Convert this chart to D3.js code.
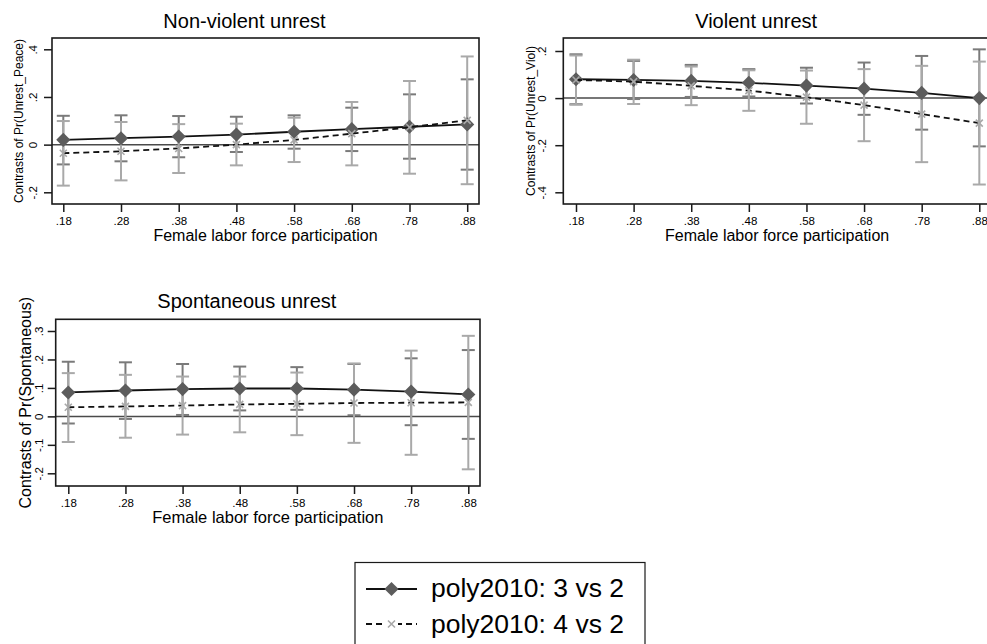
<!DOCTYPE html>
<html><head><meta charset="utf-8">
<script src="https://cdn.jsdelivr.net/npm/d3@7/dist/d3.min.js"></script>
<style>body{margin:0;background:#fff;} svg{display:block;font-family:"Liberation Sans",Arial,sans-serif;}</style>
</head><body><svg id="c" width="987" height="644"></svg>
<script>
// ---------- data ----------
const flfp = [0.18, 0.28, 0.38, 0.48, 0.58, 0.68, 0.78, 0.88];
const xTickLabels = [".18", ".28", ".38", ".48", ".58", ".68", ".78", ".88"];
const seriesNames = ["poly2010: 3 vs 2", "poly2010: 4 vs 2"];
const panelTitles = ["Non-violent unrest", "Violent unrest", "Spontaneous unrest"];
const yTitles = ["Contrasts of Pr(Unrest_Peace)", "Contrasts of Pr(Unrest_Viol)", "Contrasts of Pr(Spontaneous)"];
const xTitle = "Female labor force participation";

// Non-violent unrest
const peaceTicks = [-0.2, 0, 0.2, 0.4];
const peaceTickLabels = ["-.2", "0", ".2", ".4"];
const peaceS1Est = [0.020, 0.027, 0.034, 0.042, 0.054, 0.065, 0.075, 0.085];
const peaceS1Lo  = [-0.083, -0.070, -0.053, -0.031, -0.017, -0.027, -0.059, -0.105];
const peaceS1Hi  = [0.121, 0.123, 0.120, 0.117, 0.123, 0.155, 0.211, 0.274];
const peaceS2Est = [-0.036, -0.028, -0.016, 0.000, 0.020, 0.046, 0.073, 0.102];
const peaceS2Lo  = [-0.172, -0.150, -0.119, -0.087, -0.073, -0.087, -0.122, -0.166];
const peaceS2Hi  = [0.099, 0.095, 0.086, 0.088, 0.113, 0.179, 0.267, 0.370];

// Violent unrest
const violTicks = [-0.4, -0.2, 0, 0.2];
const violTickLabels = ["-.4", "-.2", "0", ".2"];
const violS1Est = [0.080, 0.077, 0.073, 0.065, 0.053, 0.040, 0.022, 0.000];
const violS1Lo  = [-0.026, -0.004, 0.005, 0.007, -0.023, -0.071, -0.134, -0.205];
const violS1Hi  = [0.186, 0.158, 0.141, 0.123, 0.129, 0.151, 0.179, 0.207];
const violS2Est = [0.077, 0.070, 0.052, 0.032, 0.004, -0.030, -0.068, -0.106];
const violS2Lo  = [-0.028, -0.025, -0.030, -0.054, -0.109, -0.183, -0.272, -0.367];
const violS2Hi  = [0.181, 0.163, 0.134, 0.118, 0.117, 0.123, 0.137, 0.155];

// Spontaneous unrest
const spontTicks = [-0.2, -0.1, 0, 0.1, 0.2, 0.3];
const spontTickLabels = ["-.2", "-.1", "0", ".1", ".2", ".3"];
const spontS1Est = [0.084, 0.091, 0.096, 0.098, 0.098, 0.094, 0.087, 0.077];
const spontS1Lo  = [-0.025, -0.009, 0.005, 0.021, 0.023, 0.004, -0.031, -0.079];
const spontS1Hi  = [0.192, 0.190, 0.184, 0.175, 0.173, 0.184, 0.204, 0.233];
const spontS2Est = [0.032, 0.035, 0.038, 0.042, 0.044, 0.047, 0.048, 0.049];
const spontS2Lo  = [-0.090, -0.075, -0.064, -0.056, -0.066, -0.093, -0.135, -0.186];
const spontS2Hi  = [0.152, 0.146, 0.140, 0.140, 0.154, 0.186, 0.231, 0.283];

// ---------- layout ----------
const svg = d3.select("#c");
const FONT = '"Liberation Sans",Arial,sans-serif';
const C_DIAMOND = "#5c5c5c", C_X = "#a9a9a9", C_CI1 = "#7a7a7a", C_CI2 = "#a9a9a9";

const panels = [
  {title: panelTitles[0], yTitle: yTitles[0], ticks: peaceTicks, tickLabels: peaceTickLabels,
   s1: [peaceS1Est, peaceS1Lo, peaceS1Hi], s2: [peaceS2Est, peaceS2Lo, peaceS2Hi],
   box: [52, 38, 479, 204], xr: [63.3, 467.2], yr: [192.3, 49.3], titleY: 28,
   yTitleSize: 12, yTitleX: 23, tickOff: -15, xTitleSize: 16},
  {title: panelTitles[1], yTitle: yTitles[1], ticks: violTicks, tickLabels: violTickLabels,
   s1: [violS1Est, violS1Lo, violS1Hi], s2: [violS2Est, violS2Lo, violS2Hi],
   box: [563.3, 38, 991, 204], xr: [576, 979.3], yr: [192.3, 51], titleY: 28,
   yTitleSize: 12, yTitleX: 535, tickOff: -17, xTitleSize: 16},
  {title: panelTitles[2], yTitle: yTitles[2], ticks: spontTicks, tickLabels: spontTickLabels,
   s1: [spontS1Est, spontS1Lo, spontS1Hi], s2: [spontS2Est, spontS2Lo, spontS2Hi],
   box: [55.7, 319.3, 480, 486], xr: [68.3, 468.3], yr: [473.3, 331], titleY: 308,
   yTitleSize: 16, yTitleX: 31, tickOff: -12.5, xTitleSize: 16.5}
];

const diamond = d3.symbol(d3.symbolSquare, 100);
function xMark(g, x, y, r, color) {
  g.append("path").attr("d", `M${x-r},${y-r}L${x+r},${y+r}M${x-r},${y+r}L${x+r},${y-r}`)
    .attr("stroke", color).attr("stroke-width", 1.6).attr("fill", "none");
}

panels.forEach(p => {
  const [bx0, by0, bx1, by1] = p.box;
  const x = d3.scaleLinear().domain([flfp[0], flfp[flfp.length-1]]).range(p.xr);
  const y = d3.scaleLinear().domain([p.ticks[0], p.ticks[p.ticks.length-1]]).range(p.yr);
  const g = svg.append("g");

  // zero line
  g.append("line").attr("x1", bx0).attr("x2", bx1).attr("y1", y(0)).attr("y2", y(0))
    .attr("stroke", "#4a4a4a").attr("stroke-width", 1.5);

  // CIs
  const caps = (ser, color) => {
    flfp.forEach((v, i) => {
      const cx = x(v), lo = y(ser[1][i]), hi = y(ser[2][i]);
      const cg = g.append("g").attr("stroke", color).attr("stroke-width", 2).attr("fill", "none");
      cg.append("line").attr("x1", cx).attr("x2", cx).attr("y1", lo).attr("y2", hi);
      cg.append("line").attr("x1", cx-6.5).attr("x2", cx+6.5).attr("y1", lo).attr("y2", lo);
      cg.append("line").attr("x1", cx-6.5).attr("x2", cx+6.5).attr("y1", hi).attr("y2", hi);
    });
  };
  caps(p.s1, C_CI1);
  caps(p.s2, C_CI2);

  const line = d3.line().x((d, i) => x(flfp[i])).y(d => y(d));
  g.append("path").attr("d", line(p.s1[0])).attr("fill", "none").attr("stroke", "#111").attr("stroke-width", 1.8);
  p.s1[0].forEach((v, i) => {
    g.append("path").attr("d", diamond()).attr("transform", `translate(${x(flfp[i])},${y(v)}) rotate(45)`)
      .attr("fill", C_DIAMOND);
  });
  g.append("path").attr("d", line(p.s2[0])).attr("fill", "none").attr("stroke", "#111")
    .attr("stroke-width", 1.8).attr("stroke-dasharray", "6,4");
  p.s2[0].forEach((v, i) => xMark(g, x(flfp[i]), y(v), 3.5, C_X));

  // box
  g.append("rect").attr("x", bx0).attr("y", by0).attr("width", bx1-bx0).attr("height", by1-by0)
    .attr("fill", "none").attr("stroke", "#1a1a1a").attr("stroke-width", 1.6);

  // x axis
  const xa = d3.axisBottom(x).tickValues(flfp).tickFormat((d, i) => xTickLabels[i]).tickSize(8).tickSizeOuter(0);
  const xg = g.append("g").attr("transform", `translate(0,${by1})`).call(xa);
  xg.select(".domain").remove();
  xg.selectAll("line").attr("stroke", "#1a1a1a").attr("stroke-width", 1.5);
  xg.selectAll("text").attr("font-family", FONT).attr("font-size", 11.5).attr("fill", "#000").attr("dy", null).attr("y", 21);

  // y axis
  const ya = d3.axisLeft(y).tickValues(p.ticks).tickFormat((d, i) => p.tickLabels[i]).tickSize(8).tickSizeOuter(0);
  const yg = g.append("g").attr("transform", `translate(${bx0},0)`).call(ya);
  yg.select(".domain").remove();
  yg.selectAll("line").attr("stroke", "#1a1a1a").attr("stroke-width", 1.5);
  yg.selectAll("text").attr("font-family", FONT).attr("font-size", 11.5).attr("fill", "#000")
    .attr("x", null).attr("dy", null).attr("text-anchor", "middle")
    .attr("transform", `translate(${p.tickOff},0) rotate(-90)`);

  // titles
  const cx = (bx0 + Math.min(bx1, 991)) / 2;
  svg.append("text").attr("x", cx - 21).attr("y", p.titleY).attr("text-anchor", "middle")
    .attr("font-family", FONT).attr("font-size", 20).text(p.title);
  svg.append("text").attr("x", cx).attr("y", by1 + 37).attr("text-anchor", "middle")
    .attr("font-family", FONT).attr("font-size", p.xTitleSize).text(xTitle);
  const yc = (by0 + by1) / 2;
  svg.append("text").attr("transform", `translate(${p.yTitleX},${yc}) rotate(-90)`).attr("text-anchor", "middle")
    .attr("font-family", FONT).attr("font-size", p.yTitleSize).text(p.yTitle);
});

// legend
const lg = svg.append("g");
lg.append("rect").attr("x", 355).attr("y", 562.5).attr("width", 290).attr("height", 100)
  .attr("fill", "#fff").attr("stroke", "#1a1a1a").attr("stroke-width", 1.2);
lg.append("line").attr("x1", 366).attr("x2", 417).attr("y1", 589).attr("y2", 589).attr("stroke", "#111").attr("stroke-width", 2);
lg.append("path").attr("d", diamond()).attr("transform", "translate(391.5,589) rotate(45)").attr("fill", C_DIAMOND);
lg.append("line").attr("x1", 366).attr("x2", 417).attr("y1", 624).attr("y2", 624).attr("stroke", "#111")
  .attr("stroke-width", 2).attr("stroke-dasharray", "6,4");
lg.append("rect").attr("x", 385).attr("y", 618).attr("width", 13).attr("height", 12).attr("fill", "#fff");
xMark(lg, 391.5, 624, 3.5, C_X);
seriesNames.forEach((s, i) => {
  lg.append("text").attr("x", 431).attr("y", 597 + i * 36).attr("font-family", FONT).attr("font-size", 26.5).text(s);
});
</script></body></html>
